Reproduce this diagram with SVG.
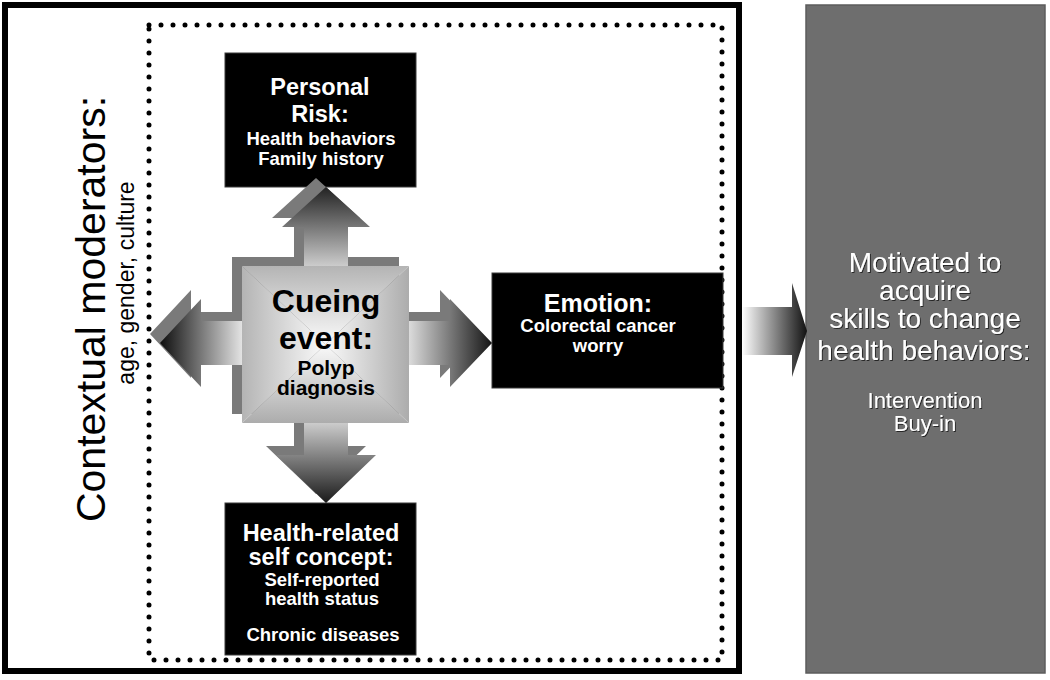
<svg xmlns="http://www.w3.org/2000/svg" xmlns:xlink="http://www.w3.org/1999/xlink" width="1050" height="680" viewBox="0 0 1050 680">
  <style>
    .frame { fill: none; stroke: #000; stroke-width: 6; }
    .dots { fill: none; stroke: #000; stroke-width: 5; stroke-dasharray: 0 12; stroke-linecap: round; }
    .box { fill: #000; stroke: #3a3a3a; stroke-width: 1; }
    .bt { font-family: "Liberation Sans", Arial, sans-serif; font-weight: bold; fill: #fff; text-anchor: middle; }
    .ct { font-family: "Liberation Sans", Arial, sans-serif; font-weight: bold; fill: #000; text-anchor: middle; }
    .rt { font-family: "Liberation Sans", Arial, sans-serif; fill: #000; text-anchor: middle; }
    .wt { font-family: "Liberation Sans", Arial, sans-serif; fill: #fff; text-anchor: middle; }
    .big { font-size: 23.5px; }
    .small { font-size: 18.5px; }
    .shadow { fill: #7a7a7a; }
  </style>
  <defs>
    <linearGradient id="gU" gradientUnits="userSpaceOnUse" x1="0" y1="268" x2="0" y2="187">
      <stop offset="0" stop-color="#d0d0d0"/>
      <stop offset="1" stop-color="#222"/>
    </linearGradient>
    <linearGradient id="gD" gradientUnits="userSpaceOnUse" x1="0" y1="421" x2="0" y2="503">
      <stop offset="0" stop-color="#d0d0d0"/>
      <stop offset="1" stop-color="#1a1a1a"/>
    </linearGradient>
    <linearGradient id="gL" gradientUnits="userSpaceOnUse" x1="244" y1="0" x2="160" y2="0">
      <stop offset="0" stop-color="#e8e8e8"/>
      <stop offset="1" stop-color="#0d0d0d"/>
    </linearGradient>
    <linearGradient id="gR" gradientUnits="userSpaceOnUse" x1="407" y1="0" x2="492" y2="0">
      <stop offset="0" stop-color="#e0e0e0"/>
      <stop offset="1" stop-color="#151515"/>
    </linearGradient>
    <linearGradient id="gOut" gradientUnits="userSpaceOnUse" x1="742" y1="0" x2="807" y2="0">
      <stop offset="0" stop-color="#ffffff"/>
      <stop offset="1" stop-color="#111"/>
    </linearGradient>
    <linearGradient id="sqT" gradientUnits="userSpaceOnUse" x1="0" y1="266" x2="0" y2="344">
      <stop offset="0" stop-color="#b4b4b4"/>
      <stop offset="1" stop-color="#fafafa"/>
    </linearGradient>
    <linearGradient id="sqB" gradientUnits="userSpaceOnUse" x1="0" y1="423" x2="0" y2="344">
      <stop offset="0" stop-color="#acacac"/>
      <stop offset="1" stop-color="#fafafa"/>
    </linearGradient>
    <linearGradient id="sqL" gradientUnits="userSpaceOnUse" x1="242" y1="0" x2="325" y2="0">
      <stop offset="0" stop-color="#b4b4b4"/>
      <stop offset="1" stop-color="#fafafa"/>
    </linearGradient>
    <linearGradient id="sqR" gradientUnits="userSpaceOnUse" x1="409" y1="0" x2="325" y2="0">
      <stop offset="0" stop-color="#acacac"/>
      <stop offset="1" stop-color="#fafafa"/>
    </linearGradient>
    <filter id="ts" x="-10%" y="-30%" width="120%" height="160%">
      <feDropShadow dx="1" dy="1" stdDeviation="0.6" flood-color="#1a1a1a" flood-opacity="0.9"/>
    </filter>
    <path id="arU" d="M326,187 L370,227 L348,227 L348,268 L304,268 L304,227 L282,227 Z"/>
    <path id="arD" d="M304,421 L348,421 L348,455 L376,455 L326,503 L276,455 L304,455 Z"/>
    <path id="arL" d="M160,343 L201,299 L201,321 L244,321 L244,365 L201,365 L201,387 Z"/>
    <path id="arR" d="M407,321 L450,321 L450,299 L492,343 L450,387 L450,365 L407,365 Z"/>
    <rect id="sq" x="242" y="266" width="167" height="157"/>
  </defs>

  <rect width="1050" height="680" fill="#fff"/>

  <g id="contextual-moderators">
    <rect class="frame" x="5" y="5" width="734" height="666"/>
    <rect class="dots" x="149" y="25" width="573" height="635"/>
    <text class="rt" font-size="41" transform="translate(105,309) rotate(-90)">Contextual moderators:</text>
    <text class="rt" font-size="23" transform="translate(134,283) rotate(-90)">age, gender, culture</text>
  </g>

  <g id="personal-risk">
    <rect class="box" x="225" y="53" width="191" height="134"/>
    <text class="bt big" x="320" y="95">Personal</text>
    <text class="bt big" x="320" y="122">Risk:</text>
    <text class="bt small" x="321" y="145">Health behaviors</text>
    <text class="bt small" x="321" y="165">Family history</text>
  </g>

  <g id="emotion">
    <rect class="box" x="492" y="273" width="231" height="115"/>
    <text class="bt" font-size="25" x="598" y="312">Emotion:</text>
    <text class="bt small" x="598" y="332">Colorectal cancer</text>
    <text class="bt small" x="598" y="352">worry</text>
  </g>

  <g id="self-concept">
    <rect class="box" x="225" y="503" width="191" height="152"/>
    <text class="bt big" x="321" y="541">Health-related</text>
    <text class="bt big" x="321" y="565">self concept:</text>
    <text class="bt small" x="322" y="586">Self-reported</text>
    <text class="bt small" x="322" y="605">health status</text>
    <text class="bt small" x="323" y="641">Chronic diseases</text>
  </g>

  <g id="motivation">
    <rect x="806" y="5" width="239" height="668" fill="#6e6e6e" stroke="#5c5c5c" stroke-width="1.5"/>
    <g filter="url(#ts)">
      <text class="wt" font-size="28" x="925" y="272">Motivated to</text>
      <text class="wt" font-size="28" x="925" y="300">acquire</text>
      <text class="wt" font-size="28" x="925" y="328">skills to change</text>
      <text class="wt" font-size="28" x="924" y="360">health behaviors:</text>
      <text class="wt" font-size="22" x="925" y="408">Intervention</text>
      <text class="wt" font-size="22" x="925" y="431">Buy-in</text>
    </g>
  </g>

  <g id="connectors">
    <g class="shadow" transform="translate(-10,-9)">
      <use xlink:href="#sq"/>
      <use xlink:href="#arU"/>
      <use xlink:href="#arD"/>
      <use xlink:href="#arL"/>
      <use xlink:href="#arR"/>
    </g>
    <use xlink:href="#arU" fill="url(#gU)"/>
    <use xlink:href="#arD" fill="url(#gD)"/>
    <use xlink:href="#arL" fill="url(#gL)"/>
    <use xlink:href="#arR" fill="url(#gR)"/>
    <path d="M742,307 L792,307 L792,283 L807,331 L792,377 L792,355 L742,355 Z" fill="url(#gOut)"/>
  </g>

  <g id="cueing-event">
    <polygon points="242,266 409,266 325.5,344.5" fill="url(#sqT)"/>
    <polygon points="242,423 409,423 325.5,344.5" fill="url(#sqB)"/>
    <polygon points="242,266 242,423 325.5,344.5" fill="url(#sqL)"/>
    <polygon points="409,266 409,423 325.5,344.5" fill="url(#sqR)"/>
    <text class="ct" font-size="32" x="326" y="312">Cueing</text>
    <text class="ct" font-size="32" x="326" y="349">event:</text>
    <text class="ct" font-size="21" x="326" y="375">Polyp</text>
    <text class="ct" font-size="21" x="326" y="395">diagnosis</text>
  </g>
</svg>
